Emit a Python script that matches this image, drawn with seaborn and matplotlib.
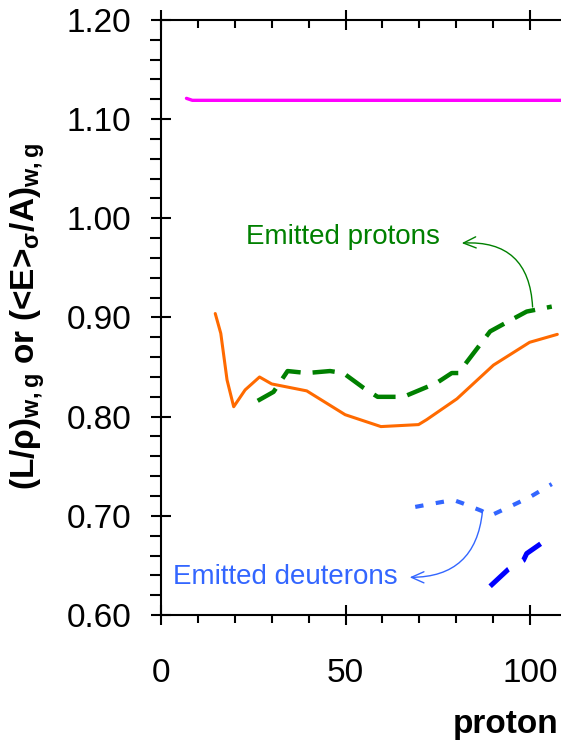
import matplotlib
matplotlib.use('Agg')
import matplotlib.pyplot as plt
import seaborn as sns
from matplotlib.ticker import MultipleLocator, FormatStrFormatter

# values
magenta_x = [6.9, 8.5, 20, 50, 80, 110]
magenta_y = [1.121, 1.119, 1.119, 1.119, 1.119, 1.119]

orange_x = [14.7, 16.2, 17.9, 19.7, 22.8, 26.7, 30.0, 39.5, 49.9, 59.6,
            69.8, 72.0, 80.2, 90.1, 99.9, 107.4]
orange_y = [0.904, 0.884, 0.837, 0.810, 0.827, 0.840, 0.833, 0.826, 0.802, 0.790,
            0.792, 0.797, 0.818, 0.852, 0.875, 0.883]

green_x = [26.2, 30.5, 34.3, 39.5, 45.8, 49.4, 54.9, 58.7, 65.7, 74.7,
           78.8, 80.6, 89.2, 94.6, 99.1, 105.9]
green_y = [0.816, 0.825, 0.846, 0.844, 0.846, 0.844, 0.829, 0.820, 0.820, 0.834,
           0.844, 0.844, 0.886, 0.897, 0.906, 0.911]

lblue_x = [68.9, 74.7, 79.2, 81.5, 86.9, 89.2, 95.5, 100.0, 105.9]
lblue_y = [0.709, 0.713, 0.716, 0.713, 0.705, 0.700, 0.711, 0.719, 0.732]

dblue_x = [89.2, 94.1, 98.2, 99.1, 104.5]
dblue_y = [0.629, 0.646, 0.655, 0.662, 0.676]

x_major = [0, 50, 100]
y_major = [0.60, 0.70, 0.80, 0.90, 1.00, 1.10, 1.20]

sns.set_style('ticks', {'axes.edgecolor': 'black', 'xtick.color': 'black',
                        'ytick.color': 'black', 'text.color': 'black',
                        'axes.labelcolor': 'black'})
plt.rcParams['font.family'] = ['Liberation Sans', 'DejaVu Sans']
plt.rcParams['mathtext.fontset'] = 'custom'
plt.rcParams['mathtext.rm'] = 'Liberation Sans'
plt.rcParams['mathtext.bf'] = 'Liberation Sans:bold'

fig = plt.figure(figsize=(5.61, 7.44), dpi=100)
ax = fig.add_axes([161 / 561, 129 / 744, 1 - 161 / 561, 595 / 744])

sns.lineplot(x=magenta_x, y=magenta_y, color='#FF00FF', lw=2.4, ax=ax)
sns.lineplot(x=orange_x, y=orange_y, color='#FF6A00', lw=2.2, ax=ax)
sns.lineplot(x=green_x, y=green_y, color='#008000', lw=3.2,
             linestyle=(0, (5, 2.7)), ax=ax)
sns.lineplot(x=lblue_x, y=lblue_y, color='#3366FF', lw=3.0,
             linestyle=(0, (2, 3)), ax=ax)
sns.lineplot(x=dblue_x, y=dblue_y, color='#0000FF', lw=3.6,
             linestyle=(0, (5, 3.4)), ax=ax)

ax.set_xlim(0, 108.4)
ax.set_ylim(0.6, 1.2)
ax.set_xticks(x_major)
ax.set_yticks(y_major)
ax.xaxis.set_minor_locator(MultipleLocator(10))
ax.yaxis.set_minor_locator(MultipleLocator(0.02))
ax.yaxis.set_major_formatter(FormatStrFormatter('%.2f'))
ax.tick_params(which='major', direction='inout', length=14.4, width=1.5,
               labelsize=24, labelcolor='black')
ax.tick_params(axis='y', which='major', pad=14.4)
ax.tick_params(axis='x', which='major', pad=24)
ax.tick_params(axis='y', which='minor', direction='out', length=8, width=1.5)
ax.tick_params(axis='x', which='minor', direction='out', length=6, width=1.5)
ax.spines['right'].set_visible(False)
ax.spines['top'].set_visible(False)
for s in ['left', 'bottom']:
    ax.spines[s].set_linewidth(1.5)

top = ax.secondary_xaxis('top')
top.set_xticks(x_major)
top.xaxis.set_minor_locator(MultipleLocator(10))
top.tick_params(which='major', direction='inout', length=14.4, width=1.5,
                labeltop=False)
top.tick_params(which='minor', direction='in', length=6, width=1.5)
top.spines['top'].set_linewidth(1.5)

ax.text(49.4, 0.981, 'Emitted protons', color='#008000', fontsize=20,
        ha='center', va='center')
ax.text(33.6, 0.638, 'Emitted deuterons', color='#3366FF', fontsize=20,
        ha='center', va='center')
ax.annotate('', xy=(81.5, 0.975), xytext=(100.7, 0.9106),
            arrowprops=dict(arrowstyle='->,head_length=0.9,head_width=0.4',
                            color='#008000', lw=1,
                            connectionstyle='arc3,rad=0.5',
                            shrinkA=0, shrinkB=0))
ax.annotate('', xy=(67.4, 0.638), xytext=(87.1, 0.704),
            arrowprops=dict(arrowstyle='->,head_length=0.9,head_width=0.4',
                            color='#3366FF', lw=1,
                            connectionstyle='arc3,rad=-0.45',
                            shrinkA=0, shrinkB=0))

fig.text(28 / 561, 428 / 744,
         r'(L/ρ)$_{\mathbf{w,g}}$ or (<E>$_{\mathbf{σ}}$/A)$_{\mathbf{w,g}}$',
         rotation=90, ha='center', va='center', fontsize=24, fontweight='bold',
         color='black')
fig.text(453 / 561, 11 / 744, 'proton', ha='left', va='baseline',
         fontsize=24, fontweight='bold', color='black')

fig.savefig('out.png', dpi=100)
